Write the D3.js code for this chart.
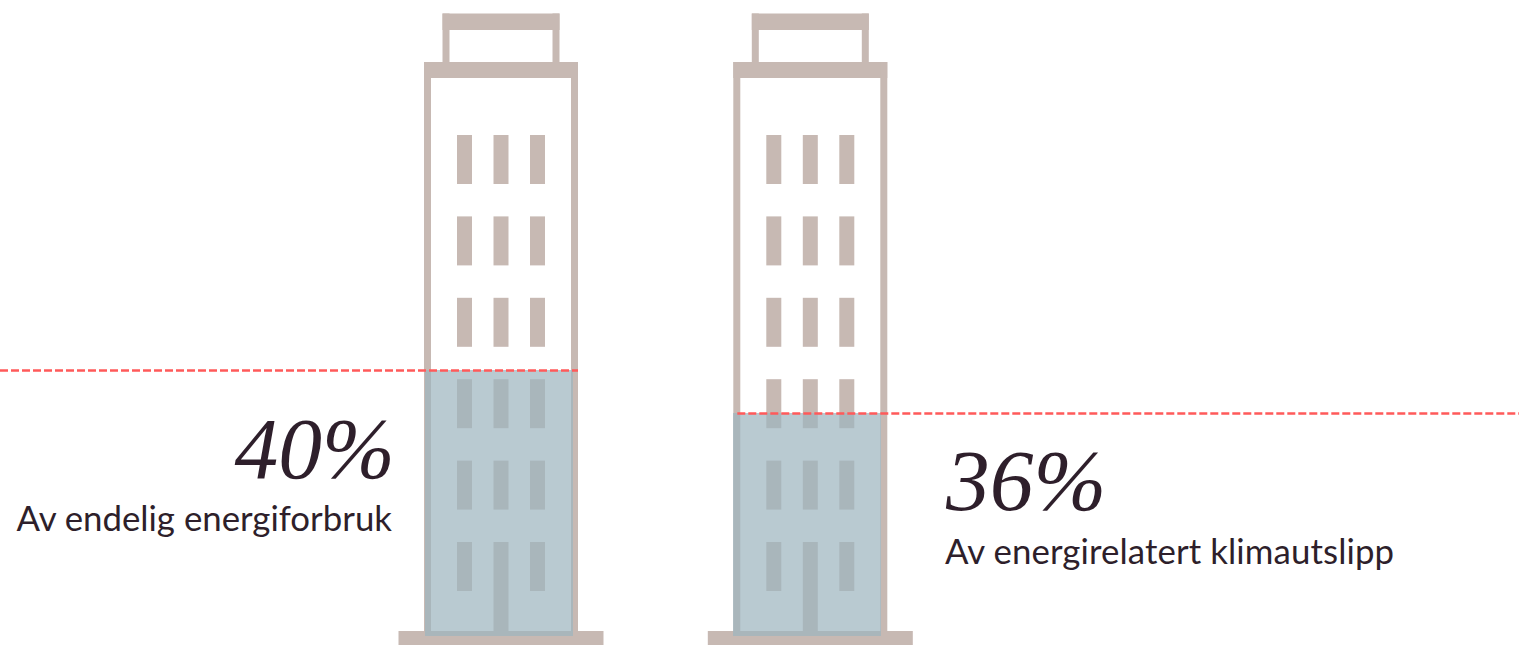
<!DOCTYPE html>
<html>
<head>
<meta charset="utf-8">
<script src="https://cdn.jsdelivr.net/npm/d3@7"></script>
<style>
  html, body { margin: 0; padding: 0; background: #fff; overflow: hidden; }
  .pct { font-family: "Liberation Serif", serif; font-style: italic; font-size: 87.5px; fill: #2e1f2b; }
  .lbl { font-family: Lato, "Open Sans", sans-serif; font-size: 34.8px; fill: #2e1f2b; }
</style>
</head>
<body>
<script>
//data
const labels = ["Av endelig energiforbruk", "Av energirelatert klimautslipp"];
const values = [40, 36];
const rows = [0, 1, 2, 3, 4, 5];
const cols = [0, 1, 2];

//consts
const w = 1519;
const h = 645;
const tan = "#c7b9b3";
const red = "#ff5a5a";

//scales - left edge of each building, window grid, fill level
const xScale = d3.scaleOrdinal().domain(labels).range([424, 733.3]);
const levelX = d3.scaleOrdinal().domain(labels).range([425, 733]);
const colScale = d3.scaleLinear().domain([0, 2]).range([33, 106]);
const rowScale = d3.scaleLinear().domain([0, 5]).range([135, 542]);
const yScale = d3.scaleLinear().domain([0, 36, 40]).range([636, 413, 370]);

const svg = d3.select("body")
  .append("svg")
  .attr("width", w)
  .attr("height", h)
  .style("display", "block");

const buildings = svg.selectAll("g.building")
  .data(labels)
  .join("g")
  .attr("class", "building")
  .attr("transform", d => "translate(" + xScale(d) + ",0)");

//outline pieces: roof box, cap, walls, base
const parts = [
  [18.5, 13.5, 117, 16.5],
  [18.5, 13.5, 7, 50],
  [128.5, 13.5, 7, 50],
  [0, 62, 154, 16],
  [0, 62, 7, 570],
  [147, 62, 7, 570],
  [-25.5, 631, 205, 14]
];
buildings.selectAll("rect.part")
  .data(parts)
  .join("rect")
  .attr("class", "part")
  .attr("x", d => d[0])
  .attr("y", d => d[1])
  .attr("width", d => d[2])
  .attr("height", d => d[3])
  .attr("fill", tan);

//windows, the middle one in the last row is the door
const cells = rows.flatMap(r => cols.map(c => ({r, c})));
buildings.selectAll("rect.win")
  .data(cells)
  .join("rect")
  .attr("class", "win")
  .attr("x", d => colScale(d.c))
  .attr("y", d => rowScale(d.r))
  .attr("width", 15)
  .attr("height", d => (d.r === 5 && d.c === 1) ? 89 : 49)
  .attr("fill", tan);

//fill level
svg.selectAll("rect.level")
  .data(labels)
  .join("rect")
  .attr("class", "level")
  .attr("x", d => levelX(d))
  .attr("y", (d, i) => yScale(values[i]))
  .attr("width", 148)
  .attr("height", (d, i) => yScale(0) - yScale(values[i]))
  .attr("fill", "#9db5bf")
  .attr("fill-opacity", 0.715);

//dashed lines
svg.selectAll("line.dash")
  .data(labels)
  .join("line")
  .attr("class", "dash")
  .attr("x1", (d, i) => i === 0 ? 0 : xScale(d) + 4)
  .attr("x2", (d, i) => i === 0 ? xScale(d) + 154 : w)
  .attr("y1", (d, i) => yScale(values[i]) + 0.5)
  .attr("y2", (d, i) => yScale(values[i]) + 0.5)
  .attr("stroke", red)
  .attr("stroke-width", 2.5)
  .attr("stroke-dasharray", "8,3");

//text
const anchor = ["end", "start"];
const textX = [395, 946];
const pctY = [478, 510];
const lblY = [531, 563.5];

svg.selectAll("text.pct")
  .data(values)
  .join("text")
  .attr("class", "pct")
  .attr("x", (d, i) => textX[i])
  .attr("y", (d, i) => pctY[i])
  .attr("text-anchor", (d, i) => anchor[i])
  .text(d => d + "%");

svg.selectAll("text.lbl")
  .data(labels)
  .join("text")
  .attr("class", "lbl")
  .attr("x", (d, i) => i === 0 ? 392 : 945)
  .attr("y", (d, i) => lblY[i])
  .attr("text-anchor", (d, i) => anchor[i])
  .attr("letter-spacing", (d, i) => i === 0 ? 0 : 0.1)
  .text(d => d);
</script>
</body>
</html>
